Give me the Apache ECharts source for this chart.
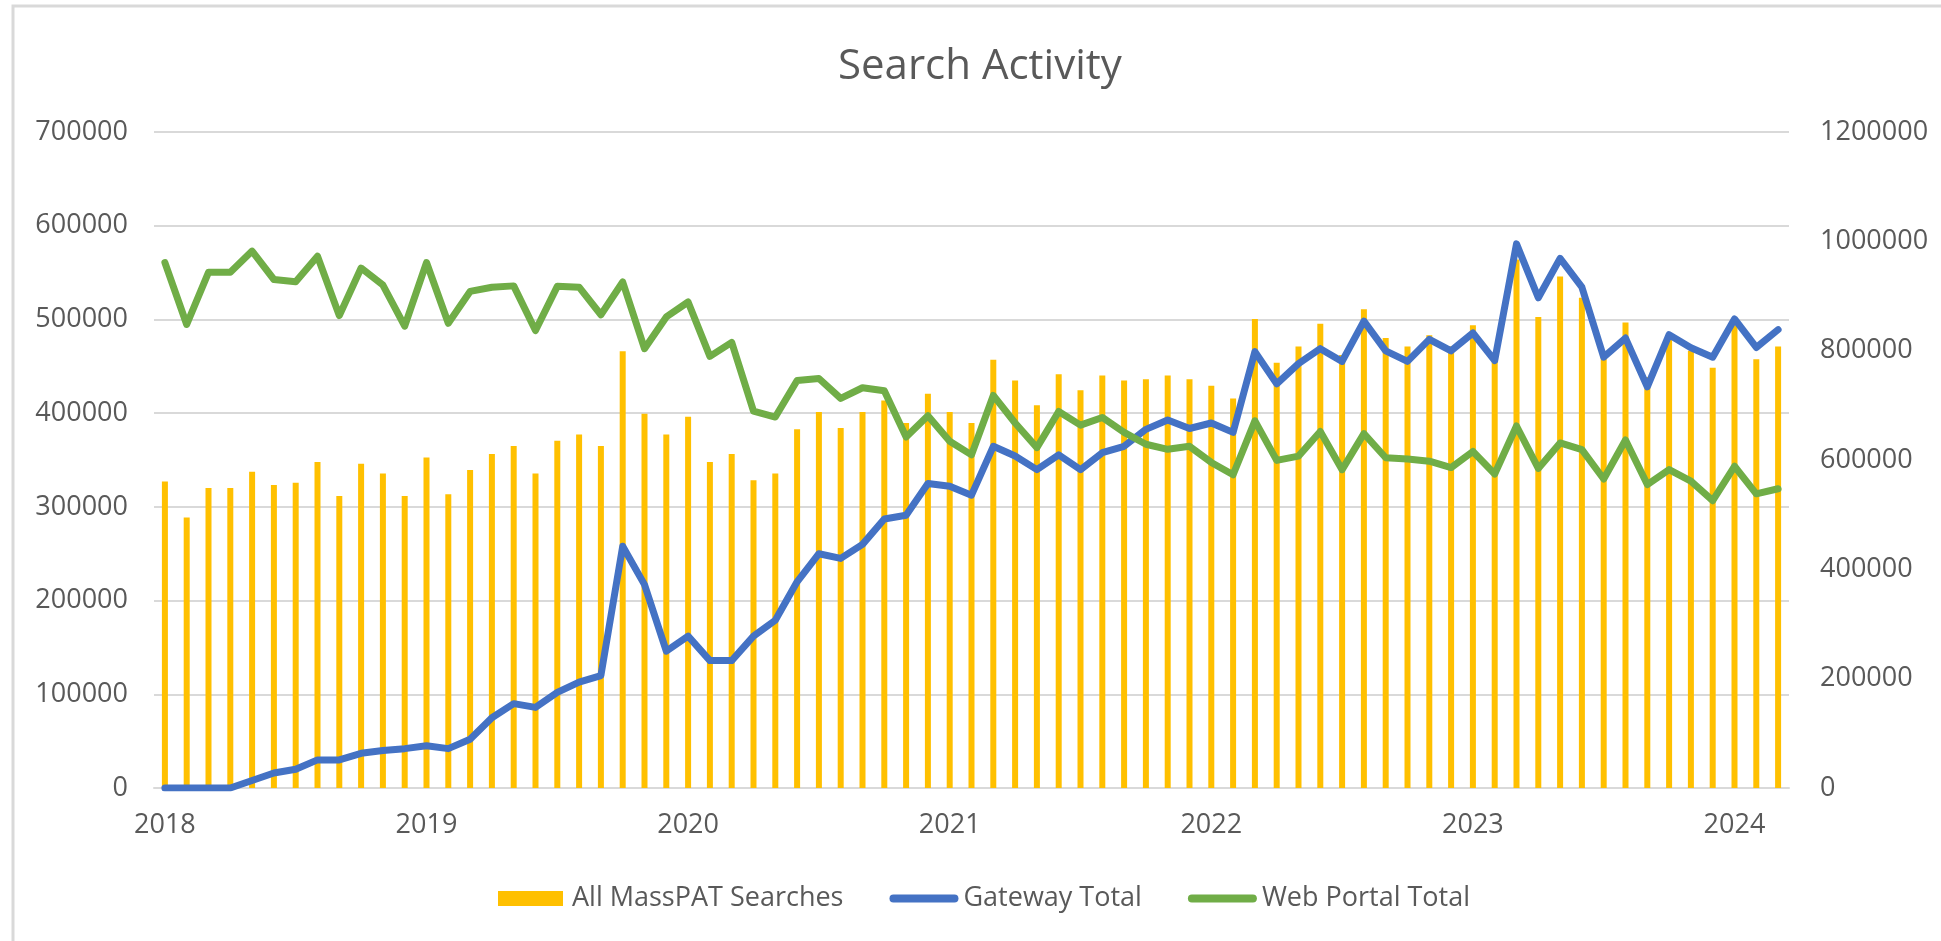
<!DOCTYPE html>
<html>
<head>
<meta charset="utf-8">
<script src="https://cdn.jsdelivr.net/npm/echarts@6/dist/echarts.min.js"></script>
<style>
html,body{margin:0;padding:0;background:#fff;}
#chart{width:1941px;height:941px;}
</style>
</head>
<body>
<div id="chart"></div>
<script>
const months = [
'2018-01','2018-02','2018-03','2018-04','2018-05','2018-06','2018-07','2018-08','2018-09','2018-10','2018-11','2018-12',
'2019-01','2019-02','2019-03','2019-04','2019-05','2019-06','2019-07','2019-08','2019-09','2019-10','2019-11','2019-12',
'2020-01','2020-02','2020-03','2020-04','2020-05','2020-06','2020-07','2020-08','2020-09','2020-10','2020-11','2020-12',
'2021-01','2021-02','2021-03','2021-04','2021-05','2021-06','2021-07','2021-08','2021-09','2021-10','2021-11','2021-12',
'2022-01','2022-02','2022-03','2022-04','2022-05','2022-06','2022-07','2022-08','2022-09','2022-10','2022-11','2022-12',
'2023-01','2023-02','2023-03','2023-04','2023-05','2023-06','2023-07','2023-08','2023-09','2023-10','2023-11','2023-12',
'2024-01','2024-02','2024-03'
];

const allMassPAT = [
560600,494600,548900,548900,578400,554400,558200,596300,534200,593200,575300,534200,
604800,537300,581500,611000,625800,575300,635100,646800,625800,798900,684800,646800,
679300,596300,611000,562900,575300,656100,688000,658400,688000,708900,667700,721200,
688000,667700,783400,745300,700300,757000,727500,754700,745300,747700,754700,747700,
736000,712700,858000,777900,807400,849400,792000,875800,823000,807400,828300,808000,
846300,791000,966900,861800,935500,896700,789400,851700,751800,823400,799700,768700,
846300,784100,807400
];

const gatewayTotal = [
0,0,0,0,8000,16000,20000,30000,30000,37000,40000,42000,
45000,42000,52000,75000,90000,86000,102000,113000,120000,258000,217000,146000,
162000,136000,136000,162000,179000,220000,250000,245000,260000,287000,291000,325000,
322000,312500,364600,354200,339700,355500,339700,357800,364600,382700,392700,383600,
389500,379500,465600,431200,452900,468800,455200,498200,466500,455200,478700,466500,
485500,456100,580600,523100,565200,534400,459700,480100,428000,483700,469700,459700,
500500,470100,489100
];

const webPortalTotal = [
560700,494600,550300,550300,572900,542600,540300,567500,504100,554800,536700,492800,
560700,495900,529900,534400,535800,488200,535300,534400,505000,539900,468800,502700,
518600,460600,475500,402200,395800,434800,437000,415800,427100,423900,374500,397200,
370000,355500,418900,389500,363200,401700,387200,395400,379500,366800,361400,364600,
347400,334200,391800,349600,354200,380400,339700,378200,352400,351000,348700,341900,
359100,335100,386300,341000,368200,361000,329700,371400,323800,339700,327400,306600,
343300,313900,319300
];

const seriesNames = ['All MassPAT Searches', 'Gateway Total', 'Web Portal Total'];
const leftTicks = [0, 700000, 100000];
const rightTicks = [0, 1200000, 200000];

const FONT = 'Open Sans';
const TXT = '#595959';
const GRID = '#D9D9D9';
// legend icons: degenerate points pad the bounds so the drawn shape keeps its size
const BAR_ICON = 'path://M0,0L0,0M0,0L65,0L65,15L0,15ZM69,15L69,15';
const LINE_ICON = 'path://M0,0L0,0M4,3.5L65,3.5A4,4,0,0,1,65,11.5L4,11.5A4,4,0,0,1,4,3.5ZM0,15L0,15M69,0L69,0';

const chart = echarts.init(document.getElementById('chart'), null, {renderer: 'canvas'});
chart.setOption({
  backgroundColor: '#ffffff',
  animation: false,
  textStyle: {fontFamily: FONT},
  graphic: [{
    type: 'rect',
    shape: {x: 13, y: 6, width: 2100, height: 1100},
    style: {fill: 'none', stroke: GRID, lineWidth: 3},
    silent: true,
    z: -1
  }],
  title: {
    text: 'Search Activity',
    left: 833,
    top: 41,
    textStyle: {fontFamily: FONT, fontSize: 42, fontWeight: 'normal', color: TXT}
  },
  legend: {
    left: 493,
    top: 880,
    itemWidth: 69,
    itemHeight: 15,
    itemGap: 46,
    textStyle: {fontFamily: FONT, fontSize: 27, color: TXT},
    data: [
      {name: seriesNames[0], icon: BAR_ICON},
      {name: seriesNames[1], icon: LINE_ICON},
      {name: seriesNames[2], icon: LINE_ICON}
    ]
  },
  grid: {left: 154, right: 152, top: 132, bottom: 153},
  xAxis: {
    type: 'category',
    data: months,
    boundaryGap: true,
    axisLine: {show: true, lineStyle: {color: GRID, width: 2}},
    axisTick: {show: false},
    axisLabel: {
      interval: function (idx, val) { return val.slice(5) === '01'; },
      formatter: function (val) { return val.slice(0, 4); },
      color: TXT, fontFamily: FONT, fontSize: 27, margin: 24
    },
    splitLine: {show: false}
  },
  yAxis: [{
    type: 'value',
    min: leftTicks[0], max: leftTicks[1], interval: leftTicks[2],
    position: 'left',
    axisLine: {show: false},
    axisTick: {show: false},
    axisLabel: {color: TXT, fontFamily: FONT, fontSize: 27, margin: 26,
      formatter: function (v) { return String(v); }},
    splitLine: {show: true, lineStyle: {color: GRID, width: 2}}
  }, {
    type: 'value',
    min: rightTicks[0], max: rightTicks[1], interval: rightTicks[2],
    position: 'right',
    axisLine: {show: false},
    axisTick: {show: false},
    axisLabel: {color: TXT, fontFamily: FONT, fontSize: 27, margin: 31,
      formatter: function (v) { return String(v); }},
    splitLine: {show: false}
  }],
  series: [{
    name: seriesNames[0],
    type: 'bar',
    yAxisIndex: 1,
    data: allMassPAT,
    barWidth: 6,
    itemStyle: {color: '#FFC000'}
  }, {
    name: seriesNames[1],
    type: 'line',
    yAxisIndex: 0,
    data: gatewayTotal,
    symbol: 'none',
    showSymbol: false,
    lineStyle: {color: '#4472C4', width: 7, cap: 'round', join: 'round'},
    itemStyle: {color: '#4472C4'}
  }, {
    name: seriesNames[2],
    type: 'line',
    yAxisIndex: 0,
    data: webPortalTotal,
    symbol: 'none',
    showSymbol: false,
    lineStyle: {color: '#70AD47', width: 7, cap: 'round', join: 'round'},
    itemStyle: {color: '#70AD47'}
  }]
});
</script>
</body>
</html>
